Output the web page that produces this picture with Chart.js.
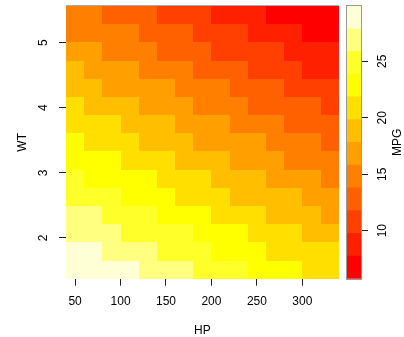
<!DOCTYPE html>
<html>
<head>
<meta charset="utf-8">
<script src="https://cdn.jsdelivr.net/npm/chart.js@4.4.1/dist/chart.umd.min.js"></script>
<style>
  html, body { margin: 0; padding: 0; background: #fff; }
  #wrap { position: relative; width: 404px; height: 337px; }
  #main { position: absolute; left: 0; top: 0; width: 404px; height: 337px; }
  #bar { position: absolute; left: 338px; top: 0; width: 66px; height: 337px; }
</style>
</head>
<body>
<div id="wrap">
  <div id="main"><canvas id="heat"></canvas></div>
  <div id="bar"><canvas id="legend"></canvas></div>
</div>
<script>
// grid centres
const HP = [50, 70, 90, 110, 130, 150, 170, 190, 210, 230, 250, 270, 290, 310, 330];
const WT = [5.424, 5.145, 4.866, 4.586, 4.307, 4.028, 3.748, 3.469, 3.189, 2.910, 2.631, 2.351, 2.072, 1.792, 1.513];

// predicted MPG, one row per WT (top row first), one column per HP
const MPG_ROWS = [
  [14.8, 14.8, 12.8, 12.8, 12.8, 10.8, 10.8, 10.8, 8.8, 8.8, 8.8, 6.8, 6.8, 6.8, 6.8],
  [14.8, 14.8, 14.8, 14.8, 12.8, 12.8, 12.8, 10.8, 10.8, 10.8, 8.8, 8.8, 8.8, 6.8, 6.8],
  [16.8, 16.8, 14.8, 14.8, 14.8, 12.8, 12.8, 12.8, 10.8, 10.8, 10.8, 10.8, 8.8, 8.8, 8.8],
  [18.8, 16.8, 16.8, 16.8, 14.8, 14.8, 14.8, 12.8, 12.8, 12.8, 10.8, 10.8, 10.8, 8.8, 8.8],
  [18.8, 18.8, 16.8, 16.8, 16.8, 16.8, 14.8, 14.8, 14.8, 12.8, 12.8, 12.8, 10.8, 10.8, 10.8],
  [20.8, 18.8, 18.8, 18.8, 16.8, 16.8, 16.8, 14.8, 14.8, 14.8, 12.8, 12.8, 12.8, 12.8, 10.8],
  [20.8, 20.8, 20.8, 18.8, 18.8, 18.8, 16.8, 16.8, 16.8, 14.8, 14.8, 14.8, 12.8, 12.8, 12.8],
  [22.8, 20.8, 20.8, 20.8, 18.8, 18.8, 18.8, 16.8, 16.8, 16.8, 16.8, 14.8, 14.8, 14.8, 12.8],
  [22.8, 22.8, 22.8, 20.8, 20.8, 20.8, 18.8, 18.8, 18.8, 16.8, 16.8, 16.8, 14.8, 14.8, 14.8],
  [24.8, 22.8, 22.8, 22.8, 22.8, 20.8, 20.8, 20.8, 18.8, 18.8, 18.8, 16.8, 16.8, 16.8, 14.8],
  [24.8, 24.8, 24.8, 22.8, 22.8, 22.8, 20.8, 20.8, 20.8, 18.8, 18.8, 18.8, 18.8, 16.8, 16.8],
  [26.8, 26.8, 24.8, 24.8, 24.8, 22.8, 22.8, 22.8, 20.8, 20.8, 20.8, 18.8, 18.8, 18.8, 16.8],
  [26.8, 26.8, 26.8, 24.8, 24.8, 24.8, 24.8, 22.8, 22.8, 22.8, 20.8, 20.8, 20.8, 18.8, 18.8],
  [28.8, 28.8, 26.8, 26.8, 26.8, 24.8, 24.8, 24.8, 22.8, 22.8, 22.8, 20.8, 20.8, 20.8, 20.8],
  [28.8, 28.8, 28.8, 28.8, 26.8, 26.8, 26.8, 24.8, 24.8, 24.8, 22.8, 22.8, 22.8, 20.8, 20.8],
];

// colour classes (heat.colors(12)) and their MPG breaks
const HEAT = ["#FF0000", "#FF2000", "#FF4000", "#FF6000", "#FF8000", "#FF9F00",
  "#FFBF00", "#FFDF00", "#FFFF00", "#FFFF2A", "#FFFF80", "#FFFFD5"];
const BREAKS = [5.75, 7.76, 9.77, 11.78, 13.8, 15.81, 17.82, 19.83, 21.84, 23.85, 25.87, 27.88, 29.89];

const HP_TICKS = [50, 100, 150, 200, 250, 300];
const WT_TICKS = [2, 3, 4, 5];
const MPG_TICKS = [10, 15, 20, 25];

const TICK = "#222";
const FRAME = "#999";

Chart.defaults.font.family = "'Liberation Sans', Arial, Helvetica, sans-serif";
Chart.defaults.font.size = 12;
Chart.defaults.color = "#000";

const colorFor = (v) => {
  for (let i = 0; i < HEAT.length; i++) if (v < BREAKS[i + 1]) return HEAT[i];
  return HEAT[HEAT.length - 1];
};

// cell boundaries halfway between neighbouring centres
function cellEdges(c) {
  const e = [c[0] - (c[1] - c[0]) / 2];
  for (let i = 1; i < c.length; i++) e.push((c[i - 1] + c[i]) / 2);
  e.push(c[c.length - 1] + (c[c.length - 1] - c[c.length - 2]) / 2);
  return e;
}

const hpEdges = cellEdges(HP);
const wtEdges = cellEdges(WT);

const cells = [];
WT.forEach((wt, r) => HP.forEach((hp, c) => cells.push({ x: hp, y: wt, v: MPG_ROWS[r][c], r, c })));

const heatmapPlugin = {
  id: "heatmap",
  beforeDatasetsDraw(chart) {
    const { ctx, scales: { x, y } } = chart;
    ctx.save();
    chart.data.datasets[0].data.forEach((d) => {
      const x0 = Math.round(x.getPixelForValue(hpEdges[d.c]));
      const x1 = Math.round(x.getPixelForValue(hpEdges[d.c + 1]));
      const y0 = Math.round(y.getPixelForValue(wtEdges[d.r]));
      const y1 = Math.round(y.getPixelForValue(wtEdges[d.r + 1]));
      ctx.fillStyle = colorFor(d.v);
      ctx.fillRect(x0, Math.min(y0, y1), x1 - x0, Math.abs(y1 - y0));
    });
    // top edge of the frame
    const a = chart.chartArea;
    ctx.strokeStyle = "#aaa";
    ctx.lineWidth = 1;
    ctx.beginPath();
    ctx.moveTo(a.left, Math.round(a.top) - 0.5);
    ctx.lineTo(a.right, Math.round(a.top) - 0.5);
    ctx.stroke();
    ctx.restore();
  },
};

new Chart(document.getElementById("heat"), {
  type: "scatter",
  data: {
    datasets: [{ data: cells, pointRadius: 0, pointHoverRadius: 0 }],
  },
  options: {
    responsive: true,
    maintainAspectRatio: false,
    animation: false,
    events: [],
    layout: { padding: { left: 0, top: 6, right: 65.3, bottom: 0 } },
    plugins: { legend: { display: false }, tooltip: { enabled: false } },
    scales: {
      x: {
        type: "linear",
        min: hpEdges[0],
        max: hpEdges[hpEdges.length - 1],
        afterBuildTicks: (s) => { s.ticks = HP_TICKS.map((value) => ({ value })); },
        afterFit: (s) => { s.height = 58.3; s.paddingLeft = 0; s.paddingRight = 0; },
        grid: { drawOnChartArea: false, tickLength: 7, color: TICK },
        border: { display: true, color: "#666" },
        ticks: { padding: 8.8, maxRotation: 0, autoSkip: false },
        title: { display: true, text: "HP", font: { size: 12, lineHeight: 1 }, padding: 0 },
      },
      y: {
        type: "linear",
        min: Math.min(...wtEdges),
        max: Math.max(...wtEdges),
        afterBuildTicks: (s) => { s.ticks = WT_TICKS.map((value) => ({ value })); },
        afterFit: (s) => { s.width = 66; s.paddingTop = 0; s.paddingBottom = 0; },
        grid: { drawOnChartArea: false, tickLength: 7, color: TICK },
        border: { display: false },
        ticks: { padding: 11.7, minRotation: 90, maxRotation: 90, crossAlign: "center", autoSkip: false },
        title: { display: true, text: "WT", font: { size: 12, lineHeight: 1 }, padding: { top: 17, bottom: 0 } },
      },
    },
  },
  plugins: [heatmapPlugin],
});

// colour bar: one floating bar per colour class
const barFramePlugin = {
  id: "barFrame",
  afterDatasetsDraw(chart) {
    const { ctx, chartArea: a, scales: { y } } = chart;
    ctx.save();
    ctx.strokeStyle = FRAME;
    ctx.lineWidth = 1;
    ctx.strokeRect(Math.round(a.left) - 0.5, Math.round(a.top) - 0.5,
      Math.round(a.right - a.left) + 1, Math.round(a.bottom - a.top) + 1);
    ctx.restore();
  },
  afterDraw(chart) {
    const { ctx, chartArea: a, scales: { y } } = chart;
    ctx.save();
    ctx.translate(y.right - 6, (a.top + a.bottom) / 2);
    ctx.rotate(-Math.PI / 2);
    ctx.font = "12px 'Liberation Sans', Arial, sans-serif";
    ctx.fillStyle = "#000";
    ctx.textAlign = "center";
    ctx.textBaseline = "middle";
    ctx.fillText("MPG", 0, 0);
    ctx.restore();
  },
};

new Chart(document.getElementById("legend"), {
  type: "bar",
  data: {
    labels: ["MPG"],
    datasets: HEAT.map((c, i) => ({
      data: [[BREAKS[i], BREAKS[i + 1]]],
      backgroundColor: c,
      borderWidth: 0,
      barPercentage: 1,
      categoryPercentage: 1,
      grouped: false,
    })),
  },
  options: {
    responsive: true,
    maintainAspectRatio: false,
    animation: false,
    events: [],
    layout: { padding: { left: 8.7, top: 6, right: 0, bottom: 58.3 } },
    plugins: { legend: { display: false }, tooltip: { enabled: false } },
    scales: {
      x: { display: false },
      y: {
        type: "linear",
        position: "right",
        min: BREAKS[0],
        max: BREAKS[BREAKS.length - 1],
        afterBuildTicks: (s) => { s.ticks = MPG_TICKS.map((value) => ({ value })); },
        afterFit: (s) => { s.width = 43; s.paddingTop = 0; s.paddingBottom = 0; },
        grid: { drawOnChartArea: false, tickLength: 7, color: TICK },
        border: { display: false },
        ticks: { padding: 7.8, minRotation: 90, maxRotation: 90, crossAlign: "center", autoSkip: false },
      },
    },
  },
  plugins: [barFramePlugin],
});
</script>
</body>
</html>
